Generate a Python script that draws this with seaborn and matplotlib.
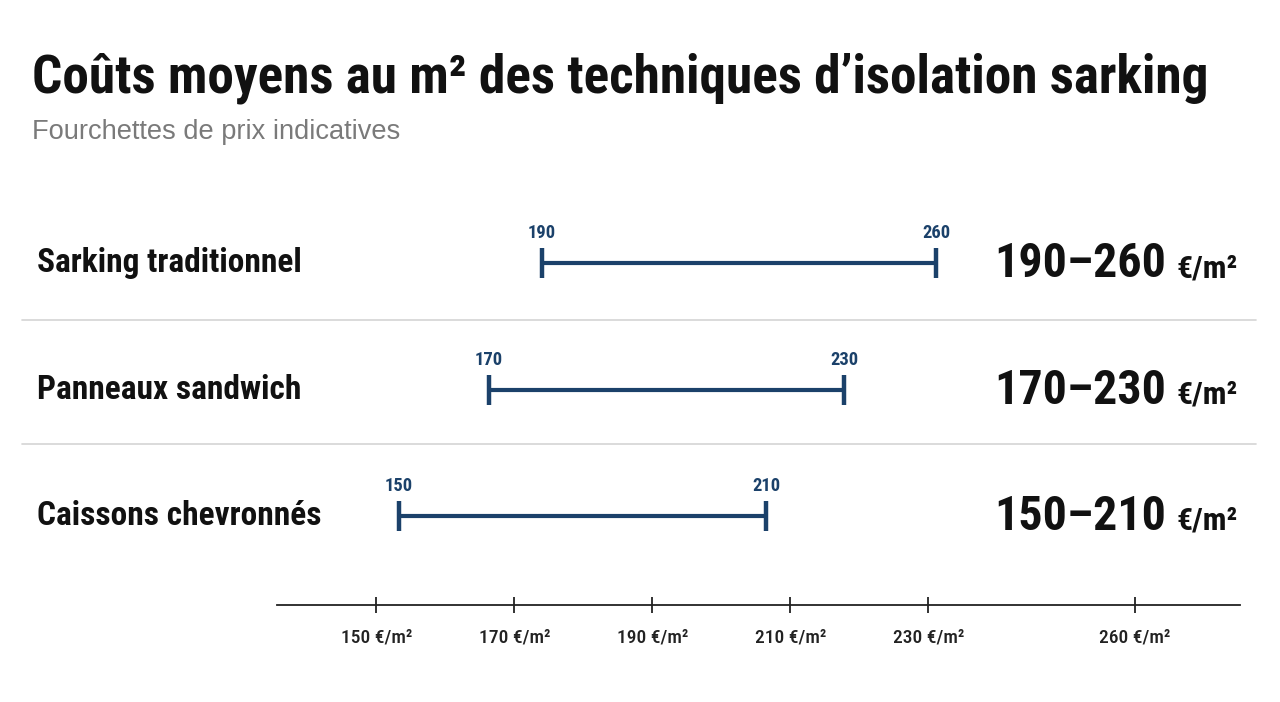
import matplotlib
matplotlib.use("Agg")
import matplotlib.pyplot as plt
import matplotlib.font_manager as fm
import numpy as np
import pandas as pd
import seaborn as sns

# ---------------- data ----------------
techniques = ["Sarking traditionnel", "Panneaux sandwich", "Caissons chevronnés"]
price_low = [190, 170, 150]
price_high = [260, 230, 210]
axis_ticks = [150, 170, 190, 210, 230, 260]
unit = "€/m²"
title = "Coûts moyens au m² des techniques d’isolation sarking"
subtitle = "Fourchettes de prix indicatives"

df = pd.DataFrame({"technique": techniques, "low": price_low, "high": price_high})

# ---------------- style ----------------
sns.set_theme(style="white")
avail = {f.name for f in fm.fontManager.ttflist}


def pick(cands, default="DejaVu Sans"):
    for c in cands:
        if c in avail:
            return c
    return default


COND = pick(["Roboto Condensed", "Archivo Narrow", "Barlow Condensed",
             "Sofia Sans Condensed", "Liberation Sans Narrow"])
REG = pick(["Liberation Sans", "Arimo", "Roboto"])
plt.rcParams["font.family"] = [COND, "DejaVu Sans"]

NAVY = "#1b416a"
INK = "#111111"

W, H = 1280, 702
fig = plt.figure(figsize=(W / 100, H / 100), dpi=100)
fig.patch.set_facecolor("white")


def fx(px):
    return px / W


def fy(py):
    return 1 - py / H


# titles
fig.text(fx(32), fy(92), title, fontsize=38.3, fontweight="heavy", color=INK,
         ha="left", va="baseline", family=[COND, "DejaVu Sans"])
fig.text(fx(32), fy(139), subtitle, fontsize=19.6, color="#7a7a7a",
         ha="left", va="baseline", family=[REG, "DejaVu Sans"])

# row layout (pixel anchors of each row's range)
row_center = [263, 390, 516]
row_px = [(542, 936), (489, 844), (399, 766)]
sep_y = [320, 444]

for i, r in df.iterrows():
    cy = row_center[i]
    p0, p1 = row_px[i]
    s = (p1 - p0) / (r["high"] - r["low"])
    xmin = r["low"] - p0 / s
    xmax = xmin + W / s
    ax = fig.add_axes([0, fy(cy + 50), 1, 100 / H])
    ax.set_xlim(xmin, xmax)
    ax.set_ylim(-1, 1)
    ax.axis("off")
    sns.lineplot(x=[r["low"], r["high"]], y=[0, 0], ax=ax, color=NAVY,
                 linewidth=3.0, marker="|", markersize=22, markeredgewidth=3.2,
                 markeredgecolor=NAVY, legend=False)
    for v in (r["low"], r["high"]):
        ax.annotate(f"{v}", (v, 0), xytext=(0, 18), textcoords="offset points",
                    ha="center", va="baseline", fontsize=13.3, fontweight="bold",
                    color=NAVY)
    # row label
    fig.text(fx(37), fy(cy + 9), r["technique"], fontsize=24, fontweight="bold",
             color=INK, ha="left", va="baseline")
    # right value
    fig.text(fx(1238), fy(cy + 14), unit, fontsize=23, fontweight="bold",
             color=INK, ha="right", va="baseline")
    fig.text(fx(1166), fy(cy + 14), f"{r['low']}–{r['high']}", fontsize=34.5,
             fontweight="bold", color=INK, ha="right", va="baseline")

# separators
for y in sep_y:
    fig.add_artist(plt.Line2D([fx(22), fx(1256)], [fy(y), fy(y)],
                              color="#d4d4d4", linewidth=1.2))

# bottom axis
axb = fig.add_axes([fx(277), fy(605), fx(1240) - fx(277), 0.02])
axb.set_xlim(135.6, 275.2)
axb.set_ylim(0, 1)
axb.set_facecolor("none")
for side in ("top", "left", "right"):
    axb.spines[side].set_visible(False)
axb.spines["bottom"].set_color("#222222")
axb.spines["bottom"].set_linewidth(1.3)
axb.set_yticks([])
axb.set_xticks(axis_ticks)
axb.set_xticklabels([f"{t} {unit}" for t in axis_ticks])
axb.tick_params(axis="x", bottom=True, direction="inout", length=12, width=1.3,
                color="#222222", pad=11, labelsize=14, labelcolor="#222222")
for lab in axb.get_xticklabels():
    lab.set_fontweight("medium")

fig.savefig("out.png", dpi=100, facecolor="white")
